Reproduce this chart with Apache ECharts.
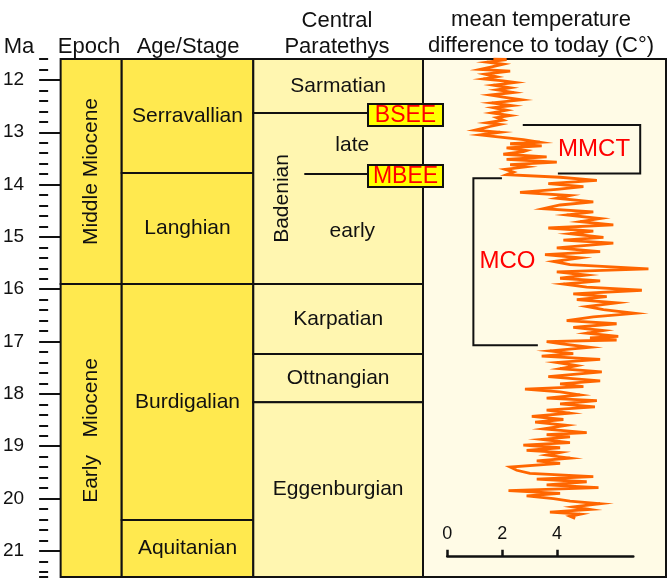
<!DOCTYPE html>
<html>
<head>
<meta charset="utf-8">
<title>Miocene stratigraphy and temperature</title>
<script src="https://cdn.jsdelivr.net/npm/echarts@6/dist/echarts.min.js"></script>
<style>
  html, body { margin: 0; padding: 0; background: #fff; }
  #chart { width: 668px; height: 580px; }
</style>
</head>
<body>
<div id="chart"></div>
<script>
// age axis (Ma), shared by every column
const ageTop = 11.6
const ageBottom = 21.5
const majorTicks = [12, 13, 14, 15, 16, 17, 18, 19, 20, 21]

// epochs
const epochNames = ['Middle Miocene', 'Early   Miocene']
const epochStart = [11.6, 15.9]
const epochEnd = [15.9, 21.5]

// ages / stages
const stageNames = ['Serravallian', 'Langhian', 'Burdigalian', 'Aquitanian']
const stageStart = [11.6, 13.78, 15.9, 20.41]
const stageEnd = [13.78, 15.9, 20.41, 21.5]

// Central Paratethys stages
const paraNames = ['Sarmatian', 'Badenian', 'Karpatian', 'Ottnangian', 'Eggenburgian']
const paraStart = [11.6, 12.63, 15.9, 17.24, 18.16]
const paraEnd = [12.63, 15.9, 17.24, 18.16, 21.5]
const badenSubNames = ['late', 'early']
const badenSubStart = [12.63, 13.8]
const badenSubEnd = [13.8, 15.9]

// extinction events
const eventNames = ['BSEE', 'MBEE']
const eventAges = [12.63, 13.8]

// climate intervals (brackets beside the curve)
const bracketNames = ['MMCT', 'MCO']
const bracketStart = [12.86, 13.88]
const bracketEnd = [13.79, 17.07]

// temperature scale bar
const scaleTicks = [0, 2, 4]

// mean temperature difference to today (°C) against age (Ma)
const curveAge = [
  11.60, 11.61, 11.66, 11.70, 11.75, 11.80, 11.83, 11.89, 11.94, 11.98,
  12.02, 12.05, 12.10, 12.15, 12.19, 12.24, 12.29, 12.34, 12.38, 12.44,
  12.49, 12.53, 12.58, 12.63, 12.68, 12.72, 12.77, 12.82, 12.85, 12.89,
  12.96, 13.00, 13.05, 13.08, 13.14, 13.19, 13.22, 13.26, 13.30, 13.35,
  13.37, 13.42, 13.47, 13.52, 13.57, 13.62, 13.66, 13.71, 13.76, 13.81,
  13.86, 13.92, 13.98, 14.04, 14.09, 14.15, 14.21, 14.26, 14.33, 14.39,
  14.46, 14.52, 14.58, 14.65, 14.71, 14.77, 14.83, 14.89, 14.94, 15.01,
  15.06, 15.12, 15.16, 15.21, 15.28, 15.34, 15.40, 15.47, 15.53, 15.61,
  15.67, 15.73, 15.79, 15.84, 15.90, 15.96, 16.02, 16.09, 16.14, 16.20,
  16.26, 16.33, 16.39, 16.46, 16.53, 16.60, 16.66, 16.73, 16.79, 16.84,
  16.90, 16.93, 16.97, 17.00, 17.04, 17.11, 17.18, 17.23, 17.28, 17.34,
  17.40, 17.46, 17.52, 17.58, 17.67, 17.75, 17.81, 17.86, 17.91, 17.96,
  18.02, 18.08, 18.13, 18.19, 18.25, 18.31, 18.37, 18.43, 18.49, 18.54,
  18.60, 18.67, 18.74, 18.78, 18.82, 18.87, 18.93, 18.98, 19.03, 19.08,
  19.12, 19.17, 19.23, 19.28, 19.33, 19.40, 19.46, 19.52, 19.58, 19.63,
  19.68, 19.74, 19.79, 19.85, 19.90, 19.95, 20.00, 20.05, 20.10, 20.16,
  20.21, 20.26, 20.30, 20.34, 20.38
]
const curveTemp = [
  1.68, 2.16, 1.44, 2.04, 1.62, 1.19, 2.29, 1.37, 1.80, 1.31,
  2.04, 2.47, 1.68, 2.29, 1.80, 2.41, 1.56, 2.16, 2.71, 1.62,
  2.35, 1.68, 2.16, 1.62, 2.29, 1.80, 2.04, 1.44, 1.92, 1.56,
  1.01, 1.92, 1.19, 1.68, 2.77, 3.38, 2.29, 3.44, 2.16, 2.89,
  2.77, 2.04, 3.62, 2.16, 3.99, 2.29, 2.89, 2.10, 2.41, 2.16,
  4.11, 5.45, 3.68, 4.96, 3.99, 2.65, 4.47, 3.99, 5.32, 4.11,
  3.50, 5.32, 4.35, 5.57, 4.84, 6.05, 3.68, 5.32, 4.47, 5.69,
  4.23, 6.05, 5.08, 3.99, 5.57, 3.56, 4.84, 3.87, 4.47, 7.33,
  3.99, 5.08, 4.11, 5.57, 4.23, 5.08, 7.09, 4.59, 5.81, 4.72,
  6.17, 5.08, 5.69, 6.84, 5.32, 4.35, 6.17, 4.59, 5.69, 5.08,
  6.23, 5.20, 6.17, 3.62, 4.11, 5.20, 3.74, 4.59, 3.44, 5.57,
  3.99, 4.72, 4.11, 5.63, 3.68, 5.57, 4.11, 4.96, 2.83, 4.11,
  4.84, 3.62, 5.45, 4.11, 5.38, 3.62, 4.47, 3.08, 4.23, 3.20,
  4.35, 3.50, 5.08, 3.62, 4.47, 3.44, 4.47, 2.77, 4.11, 2.89,
  4.11, 3.62, 4.47, 3.26, 4.11, 2.29, 2.53, 3.01, 5.32, 3.26,
  5.08, 3.62, 5.51, 2.23, 4.11, 2.89, 3.87, 4.47, 5.57, 4.59,
  5.20, 3.74, 4.84, 4.47, 4.66
]

const FONT = '"Liberation Sans", Arial, Helvetica, sans-serif'
const INK = '#111111'

// column geometry (px)
const colTop = 59
const colHeight = 518
const cols = [
  { left: 57.5, width: 64.2 },   // epoch
  { left: 121.7, width: 131.6 }, // age/stage
  { left: 253.3, width: 169.7 }, // central paratethys
  { left: 423, width: 243 }      // temperature panel
]

// bracket geometry, in °C units of the temperature panel
const bracketSide = [7.03, 0.95]
const bracketTopArm = [2.75, 1.99]
const bracketBottomArm = [4.03, 3.30]
const bracketLabelPos = [[5.35, 13.32], [2.19, 15.46]]

function textEl(x, y, text, size, color, rotation) {
  return {
    type: 'text',
    x: x,
    y: y,
    rotation: rotation || 0,
    style: {
      text: text,
      font: size + 'px ' + FONT,
      fill: color,
      textAlign: 'center',
      textVerticalAlign: 'middle'
    }
  }
}

// one coloured interval per row, label centred (or at a fixed offset)
function columnRenderer(names, fill, rotated, textX) {
  return function (params, api) {
    const cs = params.coordSys
    const i = params.dataIndex
    const y0 = api.coord([0, api.value(0)])[1]
    const y1 = api.coord([0, api.value(1)])[1]
    const tx = textX && textX[i] != null ? cs.x + textX[i] : cs.x + cs.width / 2
    return {
      type: 'group',
      children: [
        {
          type: 'rect',
          shape: { x: cs.x, y: y0, width: cs.width, height: y1 - y0 },
          style: { fill: fill, stroke: INK, lineWidth: 2 }
        },
        textEl(tx, (y0 + y1) / 2, names[i], 21, INK, rotated && rotated[i] ? Math.PI / 2 : 0)
      ]
    }
  }
}

function badenSubRenderer(params, api) {
  const cs = params.coordSys
  const i = params.dataIndex
  const y0 = api.coord([0, api.value(0)])[1]
  const y1 = api.coord([0, api.value(1)])[1]
  return textEl(cs.x + 99, (y0 + y1) / 2 + 2, badenSubNames[i], 21, INK)
}

function eventRenderer(params, api) {
  const cs = params.coordSys
  const i = params.dataIndex
  const y = api.coord([0, api.value(0)])[1]
  const lineFrom = [0, 51][i]
  const boxL = cs.x + cs.width - 55
  const boxR = cs.x + cs.width + 20
  return {
    type: 'group',
    children: [
      {
        type: 'line',
        shape: { x1: cs.x + lineFrom, y1: y, x2: boxL, y2: y },
        style: { stroke: INK, lineWidth: 2 }
      },
      {
        type: 'rect',
        shape: { x: boxL, y: y - 9, width: boxR - boxL, height: 22 },
        style: { fill: '#ffff00', stroke: INK, lineWidth: 2 }
      },
      textEl((boxL + boxR) / 2, y + 2.5, eventNames[i], 23, '#ff0000')
    ]
  }
}

function bracketRenderer(params, api) {
  const i = params.dataIndex
  const a0 = api.value(0)
  const a1 = api.value(1)
  const pts = [
    api.coord([bracketTopArm[i], a0]),
    api.coord([bracketSide[i], a0]),
    api.coord([bracketSide[i], a1]),
    api.coord([bracketBottomArm[i], a1])
  ]
  const lab = api.coord(bracketLabelPos[i])
  return {
    type: 'group',
    children: [
      { type: 'polyline', shape: { points: pts }, style: { stroke: INK, lineWidth: 2, fill: null } },
      textEl(lab[0], lab[1], bracketNames[i], 24, '#ff0000')
    ]
  }
}

function pairs(a, b) {
  return a.map((v, i) => [v, b[i]])
}

const chart = echarts.init(document.getElementById('chart'))

const grids = cols.map((c, i) => ({
  left: c.left,
  top: colTop,
  width: c.width,
  height: colHeight,
  show: i === 3,
  backgroundColor: '#fffbe6',
  borderColor: INK,
  borderWidth: 2
}))
// grid for the temperature scale bar inside the panel
grids.push({ left: 447.3, top: 520, width: 186, height: 36.7, show: false })

const hiddenAge = gi => ({
  gridIndex: gi, type: 'value', min: ageTop, max: ageBottom, inverse: true, show: false
})

const option = {
  animation: false,
  backgroundColor: '#ffffff',
  grid: grids,
  xAxis: [
    { gridIndex: 0, type: 'value', min: 0, max: 1, show: false },
    { gridIndex: 1, type: 'value', min: 0, max: 1, show: false },
    { gridIndex: 2, type: 'value', min: 0, max: 1, show: false },
    { gridIndex: 3, type: 'value', min: -0.886, max: 7.97, show: false },
    {
      gridIndex: 4,
      type: 'value',
      min: 0,
      max: 6.78,
      position: 'bottom',
      axisLine: { show: true, lineStyle: { color: INK, width: 2.5 } },
      axisTick: { show: true, inside: true, length: 7, customValues: scaleTicks, lineStyle: { color: INK, width: 2.5 } },
      axisLabel: { inside: true, customValues: scaleTicks, margin: 14, fontSize: 18, color: INK, fontFamily: FONT },
      splitLine: { show: false }
    }
  ],
  yAxis: [
    {
      gridIndex: 0,
      type: 'value',
      min: ageTop,
      max: ageBottom,
      inverse: true,
      position: 'left',
      offset: 12.5,
      axisLine: { show: false },
      axisTick: { show: true, length: 18, customValues: majorTicks, lineStyle: { color: INK, width: 2 } },
      axisLabel: { customValues: majorTicks, margin: 24, fontSize: 19, color: INK, fontFamily: FONT },
      splitLine: { show: false }
    },
    {
      // minor ticks every 0.2 Ma
      gridIndex: 0,
      type: 'value',
      min: ageTop,
      max: ageBottom,
      interval: 0.2,
      inverse: true,
      position: 'left',
      offset: 12.5,
      axisLine: { show: false },
      axisTick: { show: true, length: 9, lineStyle: { color: INK, width: 2 } },
      axisLabel: { show: false },
      splitLine: { show: false }
    },
    hiddenAge(1),
    hiddenAge(2),
    hiddenAge(3),
    { gridIndex: 4, type: 'value', min: 0, max: 1, show: false }
  ],
  graphic: [
    textEl(19, 47, 'Ma', 22, INK),
    textEl(89, 47, 'Epoch', 22, INK),
    textEl(188, 47, 'Age/Stage', 22, INK),
    textEl(337, 21, 'Central', 22, INK),
    textEl(337, 47, 'Paratethys', 22, INK),
    textEl(541, 20, 'mean temperature', 22, INK),
    textEl(541, 46, 'difference to today (C°)', 22, INK)
  ],
  series: [
    {
      type: 'custom',
      xAxisIndex: 0,
      yAxisIndex: 0,
      renderItem: columnRenderer(epochNames, '#ffe94f', [true, true]),
      data: pairs(epochStart, epochEnd)
    },
    {
      type: 'custom',
      xAxisIndex: 1,
      yAxisIndex: 2,
      renderItem: columnRenderer(stageNames, '#ffe94f'),
      data: pairs(stageStart, stageEnd)
    },
    {
      type: 'custom',
      xAxisIndex: 2,
      yAxisIndex: 3,
      renderItem: columnRenderer(paraNames, '#fff6b0', [false, true, false, false, false], [null, 29, null, null, null]),
      data: pairs(paraStart, paraEnd)
    },
    {
      type: 'custom',
      xAxisIndex: 2,
      yAxisIndex: 3,
      renderItem: badenSubRenderer,
      data: pairs(badenSubStart, badenSubEnd)
    },
    {
      type: 'line',
      xAxisIndex: 3,
      yAxisIndex: 4,
      showSymbol: false,
      symbol: 'none',
      lineStyle: { color: '#ff6600', width: 2.8, join: 'miter' },
      data: pairs(curveTemp, curveAge),
      z: 3
    },
    {
      type: 'custom',
      xAxisIndex: 3,
      yAxisIndex: 4,
      renderItem: bracketRenderer,
      data: pairs(bracketStart, bracketEnd),
      z: 4
    },
    {
      type: 'custom',
      xAxisIndex: 2,
      yAxisIndex: 3,
      renderItem: eventRenderer,
      data: eventAges.map(a => [a]),
      z: 5
    }
  ]
}

chart.setOption(option)
</script>
</body>
</html>
